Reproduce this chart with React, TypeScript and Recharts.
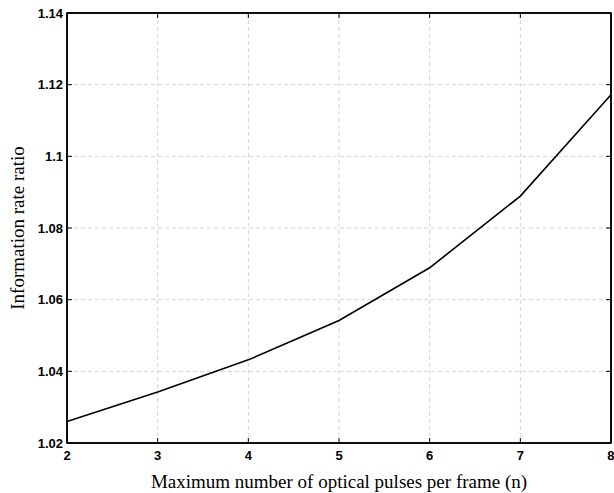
import React from 'react';
import {
  LineChart,
  Line,
  XAxis,
  YAxis,
  CartesianGrid,
  Label,
  ReferenceArea,
} from 'recharts';

const pulses = [2, 3, 4, 5, 6, 7, 8];
const rateRatio = [1.026, 1.0342, 1.0432, 1.0542, 1.0689, 1.0889, 1.1172];
const xTicks = [2, 3, 4, 5, 6, 7, 8];
const yTicks = [1.02, 1.04, 1.06, 1.08, 1.1, 1.12, 1.14];
// grid only on inner ticks so the dashes don't sit on top of the frame
const xGrid = [3, 4, 5, 6, 7];
const yGrid = [1.04, 1.06, 1.08, 1.1, 1.12];

const data = pulses.map((n, i) => ({ n, ratio: rateRatio[i] }));

const tickStyle = {
  fontFamily: '"Liberation Sans", Arial, sans-serif',
  fontWeight: 700,
  fontSize: 13,
  fill: '#000',
};

const titleFont = '"Liberation Serif", "Times New Roman", serif';
const frame = { stroke: '#000', strokeWidth: 1.5 };

function YTitle(props: any) {
  const vb = props.viewBox || { x: 0, y: 0, height: 0 };
  const cx = 17;
  const cy = vb.y + vb.height / 2;
  return (
    <text
      x={cx}
      y={cy}
      transform={`rotate(-90, ${cx}, ${cy})`}
      textAnchor="middle"
      dominantBaseline="central"
      fontFamily={titleFont}
      fontSize={19}
      fill="#000"
    >
      Information rate ratio
    </text>
  );
}

export default function App() {
  return (
    <div style={{ position: 'absolute', left: 0, top: 0, background: '#fff' }}>
      <LineChart
        width={614}
        height={493}
        data={data}
        margin={{ top: 0, right: 0, bottom: 0, left: 0 }}
      >
        <CartesianGrid
          stroke="#d2d2d2"
          strokeDasharray="4 3"
          horizontalValues={yGrid}
          verticalValues={xGrid}
        />
        <XAxis
          dataKey="n"
          type="number"
          domain={[2, 8]}
          ticks={xTicks}
          height={50}
          axisLine={frame}
          tickLine={{ stroke: '#000' }}
          tickSize={-5}
          tickMargin={13}
          tick={tickStyle}
        >
          <Label
            value="Maximum number of optical pulses per frame (n)"
            position="insideBottom"
            offset={5}
            style={{ fontFamily: titleFont, fontSize: 19, fill: '#000' }}
          />
        </XAxis>
        <XAxis
          xAxisId="top"
          orientation="top"
          dataKey="n"
          type="number"
          domain={[2, 8]}
          ticks={xTicks}
          height={13}
          axisLine={frame}
          tickLine={{ stroke: '#000' }}
          tickSize={-5}
          tickFormatter={() => ''}
        />
        <YAxis
          type="number"
          domain={[1.02, 1.14]}
          ticks={yTicks}
          width={67}
          axisLine={frame}
          tickLine={{ stroke: '#000' }}
          tickSize={-5}
          tickMargin={9}
          tick={tickStyle}
          tickFormatter={(v: number) => String(Number(v.toFixed(2)))}
          allowDataOverflow
        >
          <Label content={<YTitle />} />
        </YAxis>
        <YAxis
          yAxisId="right"
          orientation="right"
          dataKey="ratio"
          type="number"
          domain={[1.02, 1.14]}
          ticks={yTicks}
          width={3}
          axisLine={frame}
          tickLine={{ stroke: '#000' }}
          tickSize={-5}
          tickFormatter={() => ''}
          allowDataOverflow
        />
        <Line
          type="linear"
          dataKey="ratio"
          stroke="#000"
          strokeWidth={1.6}
          dot={false}
          isAnimationActive={false}
        />
        <ReferenceArea
          x1={2}
          x2={8}
          y1={1.02}
          y2={1.14}
          fill="none"
          stroke="#000"
          strokeWidth={1.5}
          ifOverflow="visible"
        />
      </LineChart>
    </div>
  );
}
